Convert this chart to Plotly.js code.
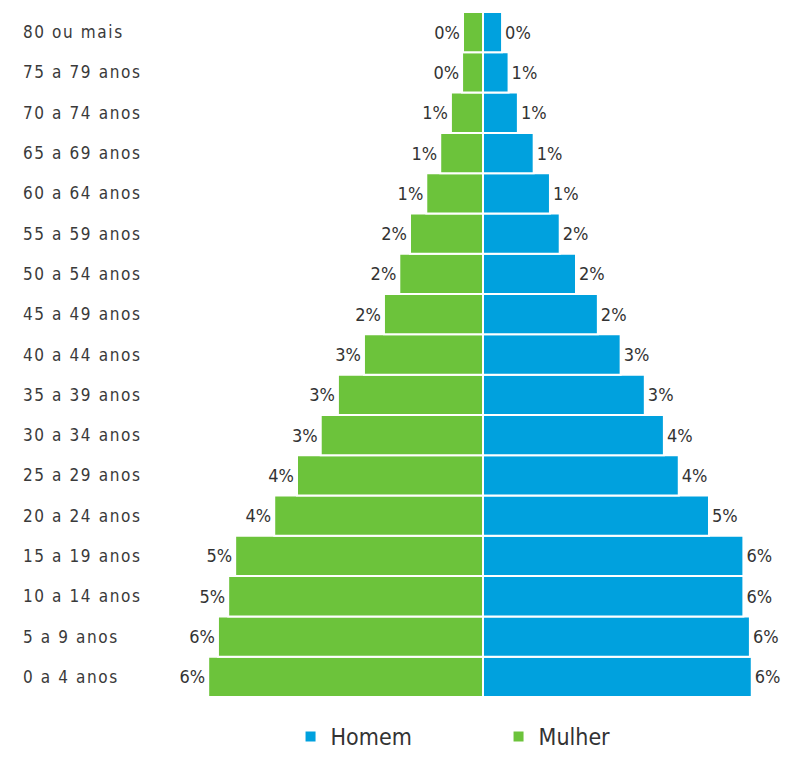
<!DOCTYPE html>
<html>
<head>
<meta charset="utf-8">
<script src="https://cdn.plot.ly/plotly-3.0.1.min.js"></script>
<style>
  body { margin: 0; background: #fff; }
  #chart { width: 796px; height: 758px; }
  .annotation-text { letter-spacing: 1.6px; }
</style>
</head>
<body>
<div id="chart"></div>
<script>
// Age groups, bottom to top
const ageGroups = [
  "0 a 4 anos", "5 a 9 anos", "10 a 14 anos", "15 a 19 anos", "20 a 24 anos",
  "25 a 29 anos", "30 a 34 anos", "35 a 39 anos", "40 a 44 anos", "45 a 49 anos",
  "50 a 54 anos", "55 a 59 anos", "60 a 64 anos", "65 a 69 anos", "70 a 74 anos",
  "75 a 79 anos", "80 ou mais"
];
// Percent of population
const homem = [5.78, 5.74, 5.60, 5.60, 4.86, 4.21, 3.89, 3.48, 2.96, 2.47,
               2.00, 1.65, 1.44, 1.09, 0.75, 0.55, 0.41];
const mulher = [5.91, 5.70, 5.48, 5.33, 4.49, 4.00, 3.49, 3.12, 2.56, 2.13,
                1.80, 1.57, 1.22, 0.92, 0.69, 0.45, 0.43];

const pct = v => Math.round(v) + "%";
const FONT = "DejaVu Sans Condensed, DejaVu Sans, Liberation Sans Narrow, sans-serif";
const labelFont = { family: FONT, size: 18, color: "#333333" };

const traces = [
  {
    type: "bar", orientation: "h", name: "Homem",
    y: ageGroups, x: homem,
    text: homem.map(pct), textposition: "outside", cliponaxis: false,
    textfont: labelFont,
    marker: { color: "#00A1DE", line: { color: "#ffffff", width: 2 } },
    hoverinfo: "skip"
  },
  {
    type: "bar", orientation: "h", name: "Mulher",
    y: ageGroups, x: mulher.map(v => -v),
    text: mulher.map(pct), textposition: "outside", cliponaxis: false,
    textfont: labelFont,
    marker: { color: "#6CC33B", line: { color: "#ffffff", width: 2 } },
    hoverinfo: "skip"
  }
];

const scalePx = 46.5, centerPx = 483, W = 796;
const annotations = ageGroups.map(g => ({
  xref: "paper", yref: "y", x: 21 / W, y: g, xanchor: "left", yanchor: "middle",
  text: g, showarrow: false,
  font: { family: FONT, size: 17, color: "#3a3a3a" }
}));

const layout = {
  width: 796, height: 758,
  margin: { l: 0, r: 0, t: 12, b: 55, pad: 0 },
  paper_bgcolor: "#ffffff", plot_bgcolor: "#ffffff",
  barmode: "overlay", bargap: 0,
  showlegend: true,
  legend: {
    orientation: "h", x: 0.365, xanchor: "left", y: -0.058, yanchor: "middle",
    traceorder: "normal", entrywidth: 163,
    font: { family: FONT, size: 23, color: "#333333" }
  },
  xaxis: { range: [-centerPx / scalePx, (W - centerPx) / scalePx], visible: false, fixedrange: true },
  yaxis: { showticklabels: false, showgrid: false, zeroline: false, showline: false, ticks: "", fixedrange: true },
  annotations: annotations
};

Plotly.newPlot("chart", traces, layout, { displayModeBar: false, staticPlot: true });
</script>
</body>
</html>
